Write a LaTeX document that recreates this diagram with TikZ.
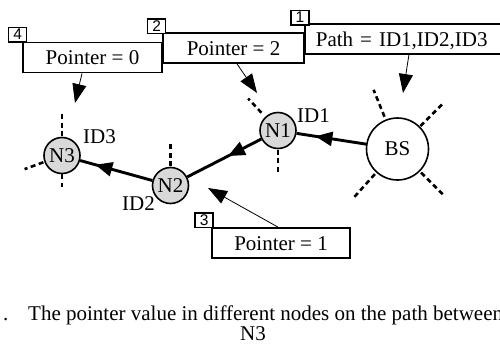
\documentclass[tikz,border=0pt]{standalone}
\usepackage{fontspec}
\setmainfont{Liberation Serif}
\newfontfamily\tagfont{Liberation Sans}
\usetikzlibrary{arrows.meta,decorations.markings}

\tikzset{
  sensor/.style={circle, draw, line width=1.6pt, fill=black!15, minimum size=36pt, inner sep=0pt},
  basestation/.style={circle, draw, line width=1.6pt, fill=white, minimum size=62pt, inner sep=0pt},
  infobox/.style={draw, line width=1.8pt, fill=white, minimum height=30pt, inner sep=0pt,
                  text height=15pt, text depth=1pt},
  stepnum/.style={draw, line width=1.4pt, fill=white, minimum width=18pt, minimum height=14.5pt,
                  inner sep=0pt, font=\tagfont\fontsize{15.5}{16}\selectfont},
  spoke/.style={line width=2.6pt, dash pattern=on 5pt off 3.5pt},
  hop/.style={line width=2.9pt, postaction={decorate},
              decoration={markings, mark=at position #1 with {\arrow{Triangle[length=17pt,width=14pt]}}}},
  pointsto/.style={line width=0.8pt, -{Triangle[length=19pt,width=14pt]}},
  idlabel/.style={anchor=base west, inner sep=0pt},
}

\begin{document}
\begin{tikzpicture}[x=1pt, y=-1pt, font=\fontsize{21}{24}\selectfont]
  \useasboundingbox (0,0) rectangle (500,343);
  \clip (0,0) rectangle (500,343);

  % sensor nodes and the base station
  \node[sensor] (n3) at (62,155.5) {N3};
  \node[sensor] (n2) at (170.5,185.5) {N2};
  \node[sensor] (n1) at (278,130.5) {N1};
  \node[basestation] (bs) at (397.5,149) {BS};

  % radio links hinted by short dashed spokes
  \draw[spoke] ([shift={(133:5.5pt)}]n1.133) -- ([shift={(133:25pt)}]n1.133);
  \draw[spoke] ([shift={(270:0.5pt)}]n1.270) -- ([shift={(270:22.5pt)}]n1.270);
  \draw[spoke] ([shift={(90:0.5pt)}]n2.90) -- ([shift={(90:22.5pt)}]n2.90);
  \draw[spoke] ([shift={(90:0.5pt)}]n3.90) -- ([shift={(90:24.5pt)}]n3.90);
  \draw[spoke] (n3.270) -- ([shift={(270:13pt)}]n3.270);
  \draw[spoke] ([shift={(200:1pt)}]n3.200) -- ([shift={(200:21pt)}]n3.200);
  \draw[spoke] ([shift={(112:3pt)}]bs.112) -- ([shift={(112:32pt)}]bs.112);
  \draw[spoke] ([shift={(45:0.6pt)}]bs.45) -- ([shift={(45:33.7pt)}]bs.45);
  \draw[spoke] ([shift={(228:2pt)}]bs.228) -- ([shift={(228:33pt)}]bs.228);
  \draw[spoke] ([shift={(-45:1.6pt)}]bs.-45) -- ([shift={(-45:33pt)}]bs.-45);

  % the path from the base station towards N3
  \draw[hop=0.73] (bs) -- (n1);
  \draw[hop=0.45] (n1) -- (n2);
  \draw[hop=0.79] (n2) -- (n3);

  % node identifiers
  \node[idlabel] (id1) at (297,122) {ID1};
  \node[idlabel] (id2) at (122,210) {ID2};
  \node[idlabel] (id3) at (83,143) {ID3};

  % information boxes
  \node[infobox, minimum width=139pt] (b0) at (92.5,57.5) {Pointer = 0};
  \node[infobox, minimum width=141pt] (b2) at (233.5,48) {Pointer = 2};
  \node[infobox, anchor=west, text width=195pt, align=left, inner xsep=11pt] (b1) at (304,39) {Path = ID1,ID2,ID3};
  \node[infobox, minimum width=138pt] (b3) at (281,243) {Pointer = 1};

  % step numbers
  \node[stepnum] (s1) at ([shift={(-4,-5.5)}]b1.north west) {1};
  \node[stepnum] (s2) at ([shift={(-5.5,-6)}]b2.north west) {2};
  \node[stepnum] (s3) at ([shift={(-7,-7)}]b3.north west) {3};
  \node[stepnum] (s4) at ([shift={(-4.5,-7)}]b0.north west) {4};

  % where each box applies
  \coordinate (t0) at (75,103);
  \coordinate (t2) at (257,93);
  \coordinate (t1) at (403,93);
  \coordinate (t3) at (208,188);
  \draw[pointsto] ([xshift=-10.5pt]b0.south) -- (t0);
  \draw[pointsto] ([xshift=3.5pt]b2.south) -- (t2);
  \draw[pointsto] ([xshift=-4.5pt]b1.south) -- (t1);
  \draw[pointsto] ([xshift=-3pt]b3.north) -- (t3);

  % caption
  \node[anchor=base west, inner sep=0pt] (capdot) at (3,320) {.};
  \node[anchor=base west, inner sep=0pt] (captext) at (28,320) {The pointer value in different nodes on the path between};
  \node[anchor=base, inner sep=0pt] (capend) at (253,340) {N3};
\end{tikzpicture}
\end{document}
